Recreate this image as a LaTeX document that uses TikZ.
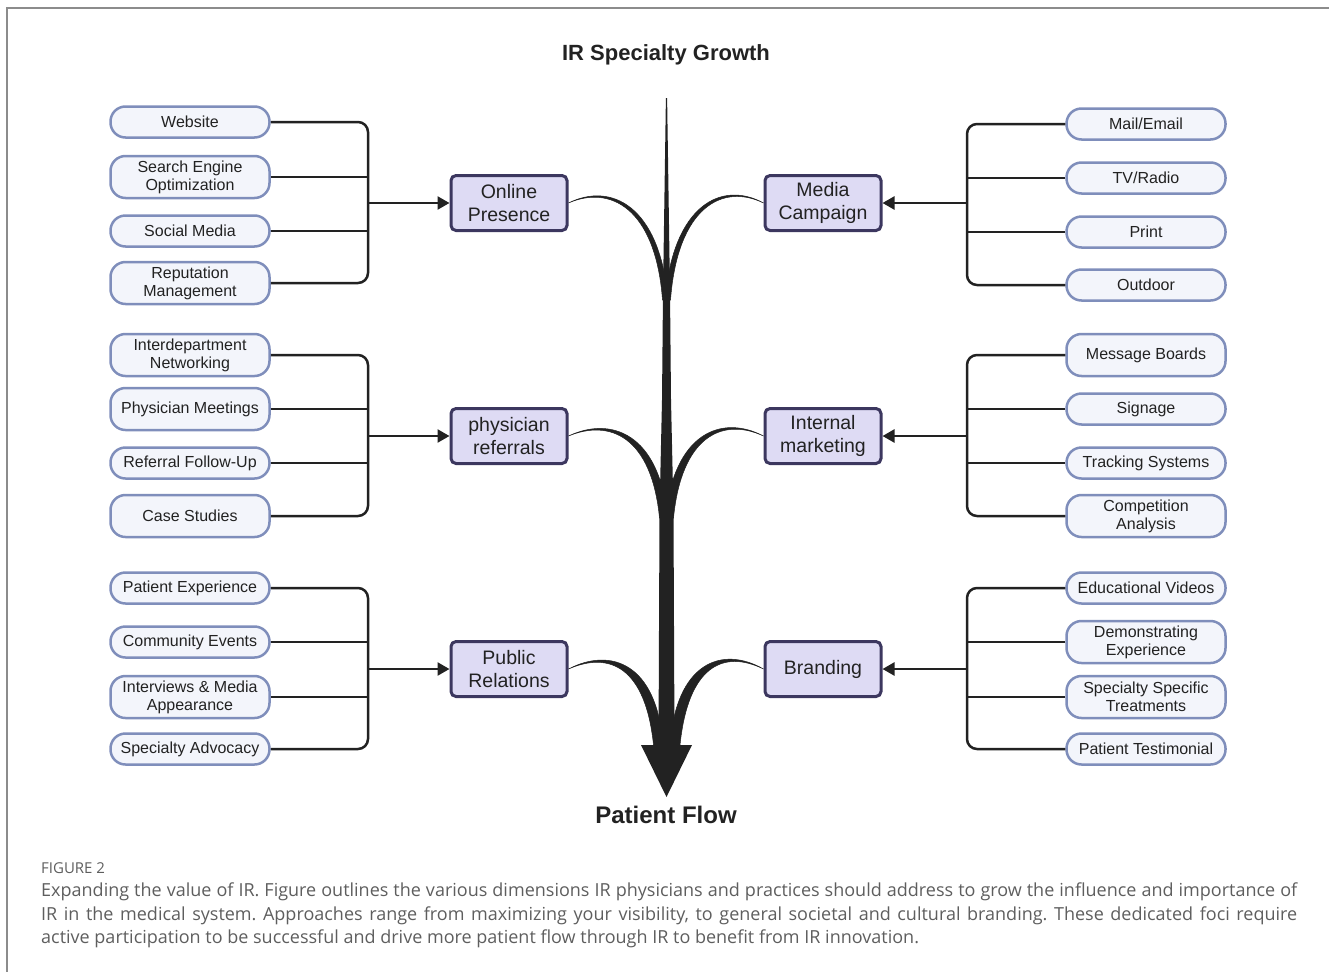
\documentclass[tikz,border=0pt]{standalone}
\usepackage{fontspec}
\setmainfont{Liberation Sans}
\newfontfamily\capfont{Open Sans}
\usetikzlibrary{arrows.meta,calc}

\definecolor{pillfill}{HTML}{F3F5FB}
\definecolor{pillline}{HTML}{7F8EBB}
\definecolor{hubfill}{HTML}{DEDBF4}
\definecolor{hubline}{HTML}{3C375F}
\definecolor{ink}{HTML}{222222}
\definecolor{capgray}{HTML}{5E5E5E}
\definecolor{framegray}{HTML}{8C8C8C}

\frenchspacing
\begin{document}
\begin{tikzpicture}[x=1pt,y=-1pt,
	pill/.style={draw=pillline, fill=pillfill, line width=2.5pt, rounded corners=15pt,
		minimum width=159pt, minimum height=31pt, inner sep=0pt, align=center,
		font=\fontsize{16}{18}\selectfont, text=ink},
	tall/.style={minimum height=42pt},
	hub/.style={draw=hubline, fill=hubfill, line width=3pt, rounded corners=5pt,
		minimum width=116pt, minimum height=55pt, inner sep=0pt, align=center,
		font=\fontsize{19.5}{22.5}\selectfont, text=ink},
	conn/.style={draw=ink, line width=2.5pt},
	feed/.style={conn, -{Triangle[length=12pt,width=13pt]}},
	flow/.style={fill=ink, draw=ink, line width=0.5pt}]
	\useasboundingbox (0,0) rectangle (1329,972);
	\draw [framegray, line width=1.5pt] (1329,8) -- (7,8) -- (7,972);

	\node [font=\bfseries\fontsize{22}{26}\selectfont, text=ink] (title) at (666,55) {IR Specialty Growth};

	% left column
	\node [pill] (web) at (190,122) {Website};
	\node [pill,tall] (seo) at (190,177) {Search Engine\\Optimization};
	\node [pill] (soc) at (190,231) {Social Media};
	\node [pill,tall] (rep) at (190,283) {Reputation\\Management};
	\node [pill,tall] (idn) at (190,355) {Interdepartment\\Networking};
	\node [pill,tall] (phm) at (190,409) {Physician Meetings};
	\node [pill] (rfu) at (190,463) {Referral Follow-Up};
	\node [pill,tall] (cas) at (190,516) {Case Studies};
	\node [pill] (pex) at (190,588) {Patient Experience};
	\node [pill] (com) at (190,642) {Community Events};
	\node [pill,tall] (itv) at (190,697) {Interviews \& Media\\Appearance};
	\node [pill] (adv) at (190,749) {Specialty Advocacy};

	% right column
	\node [pill] (mail) at (1146,124) {Mail/Email};
	\node [pill] (tvr) at (1146,178) {TV/Radio};
	\node [pill] (prt) at (1146,232) {Print};
	\node [pill] (odr) at (1146,285) {Outdoor};
	\node [pill,tall] (msg) at (1146,355) {Message Boards};
	\node [pill] (sig) at (1146,409) {Signage};
	\node [pill] (trk) at (1146,463) {Tracking Systems};
	\node [pill,tall] (cmp) at (1146,516) {Competition\\Analysis};
	\node [pill] (edu) at (1146,588) {Educational Videos};
	\node [pill,tall] (dem) at (1146,642) {Demonstrating\\Experience};
	\node [pill,tall] (sst) at (1146,697) {Specialty Specific\\Treatments};
	\node [pill] (tst) at (1146,749) {Patient Testimonial};

	% hubs
	\node [hub] (onl) at (509,203) {Online\\Presence};
	\node [hub] (med) at (823,203) {Media\\Campaign};
	\node [hub] (phy) at (509,436) {physician\\referrals};
	\node [hub] (inm) at (823,436) {Internal\\marketing};
	\node [hub] (pub) at (509,669) {Public\\Relations};
	\node [hub] (brd) at (823,669) {Branding};

	\coordinate (bl1) at (368,203);
	\coordinate (bl2) at (368,436);
	\coordinate (bl3) at (368,669);
	\coordinate (br1) at (967,203);
	\coordinate (br2) at (967,436);
	\coordinate (br3) at (967,669);

	\foreach \pa/\pb/\pc/\pd/\jn/\hb in {web/seo/soc/rep/bl1/onl, idn/phm/rfu/cas/bl2/phy, pex/com/itv/adv/bl3/pub} {
		\draw [conn, rounded corners=10pt] (\pa.east) -| (\jn) |- (\pd.east);
		\draw [conn] (\pb.east) -- (\pb.east -| \jn);
		\draw [conn] (\pc.east) -- (\pc.east -| \jn);
		\draw [feed] (\jn) -- (\hb.west);
	}
	\foreach \pa/\pb/\pc/\pd/\jn/\hb in {mail/tvr/prt/odr/br1/med, msg/sig/trk/cmp/br2/inm, edu/dem/sst/tst/br3/brd} {
		\draw [conn, rounded corners=10pt] (\pa.west) -| (\jn) |- (\pd.west);
		\draw [conn] (\pb.west) -- (\pb.west -| \jn);
		\draw [conn] (\pc.west) -- (\pc.west -| \jn);
		\draw [feed] (\jn) -- (\hb.east);
	}

	% central stream
	\coordinate (top) at (666.5,98);
	\coordinate (j1) at (666.5,300);
	\coordinate (j2) at (666.5,518);
	\coordinate (j3) at (666.5,745);
	\coordinate (tip) at (666.5,797);
	\fill [ink] ($(top)+(-0.6,0)$) -- ($(top)+(0.6,0)$) -- (670,292) -- (671,400) -- (673.5,512)
		-- (674.5,745) -- (692,745) -- (tip) -- (641,745) -- (658.5,745) -- (659.5,512)
		-- (662,400) -- (663,292) -- cycle;
	\filldraw [flow] (onl.east) .. controls +(42,-21) and +(-8,-95) .. ($(j1)+(1.5,0)$)
		-- ($(j1)+(-4,0)$) .. controls +(-7,-93) and +(41,-18) .. (onl.east) -- cycle;
	\filldraw [flow] (med.west) .. controls +(-42,-23) and +(8,-95) .. ($(j1)+(-1.5,0)$)
		-- ($(j1)+(4,0)$) .. controls +(7,-93) and +(-41,-20) .. (med.west) -- cycle;
	\filldraw [flow] (phy.east) .. controls +(42,-20) and +(-8,-85) .. ($(j2)+(1,0)$)
		-- ($(j2)+(-7,0)$) .. controls +(-8,-82) and +(41,-17) .. (phy.east) -- cycle;
	\filldraw [flow] (inm.west) .. controls +(-42,-22) and +(8,-85) .. ($(j2)+(-1,0)$)
		-- ($(j2)+(7,0)$) .. controls +(8,-82) and +(-41,-19) .. (inm.west) -- cycle;
	\filldraw [flow] (pub.east) .. controls +(42,-22) and +(-6,-82) .. ($(j3)+(-3.5,0)$)
		-- ($(j3)+(-13,0)$) .. controls +(-8,-78) and +(41,-18) .. (pub.east) -- cycle;
	\filldraw [flow] (brd.west) .. controls +(-42,-24) and +(6,-82) .. ($(j3)+(3.5,0)$)
		-- ($(j3)+(13.5,0)$) .. controls +(8,-78) and +(-41,-20) .. (brd.west) -- cycle;

	\node [font=\bfseries\fontsize{24}{28}\selectfont, text=ink] (pf) at (666,815) {Patient Flow};

	% caption
	\node [anchor=west, inner sep=0pt, font=\capfont\fontsize{15}{17}\selectfont, text=capgray] (fig) at (41,868) {FIGURE 2};
	\node [anchor=north west, text width=1256pt, inner sep=0pt, align=justify,
		font=\capfont\fontsize{18}{23.5}\selectfont, text=capgray] (cap) at (41,883)
		{Expanding the value of IR. Figure outlines the various dimensions IR physicians and practices should address to grow the influence and importance of\linebreak
		IR in the medical system. Approaches range from maximizing your visibility, to general societal and cultural branding. These dedicated foci require\linebreak
		active participation to be successful and drive more patient flow through IR to benefit from IR innovation.};
\end{tikzpicture}
\end{document}
